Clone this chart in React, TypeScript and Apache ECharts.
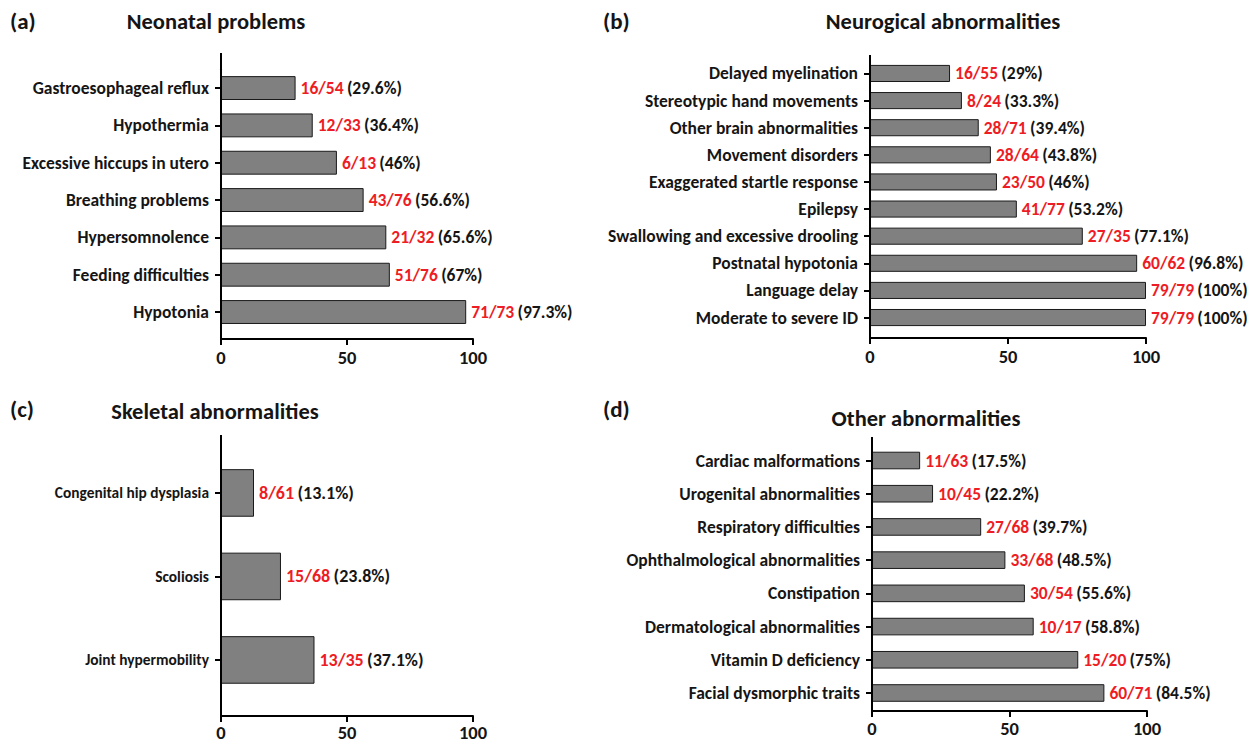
import React, { useEffect, useRef } from "react";
import * as echarts from "echarts";

// ---- Data ----
const aCats = ["Gastroesophageal reflux", "Hypothermia", "Excessive hiccups in utero", "Breathing problems", "Hypersomnolence", "Feeding difficulties", "Hypotonia"];
const aNum = [16, 12, 6, 43, 21, 51, 71];
const aDen = [54, 33, 13, 76, 32, 76, 73];
const aPct = [29.6, 36.4, 46, 56.6, 65.6, 67, 97.3];

const bCats = ["Delayed myelination", "Stereotypic hand movements", "Other brain abnormalities", "Movement disorders", "Exaggerated startle response", "Epilepsy", "Swallowing and excessive drooling", "Postnatal hypotonia", "Language delay", "Moderate to severe ID"];
const bNum = [16, 8, 28, 28, 23, 41, 27, 60, 79, 79];
const bDen = [55, 24, 71, 64, 50, 77, 35, 62, 79, 79];
const bPct = [29, 33.3, 39.4, 43.8, 46, 53.2, 77.1, 96.8, 100, 100];

const cCats = ["Congenital hip dysplasia", "Scoliosis", "Joint hypermobility"];
const cNum = [8, 15, 13];
const cDen = [61, 68, 35];
const cPct = [13.1, 23.8, 37.1];

const dCats = ["Cardiac malformations", "Urogenital abnormalities", "Respiratory difficulties", "Ophthalmological abnormalities", "Constipation", "Dermatological abnormalities", "Vitamin D deficiency", "Facial dysmorphic traits"];
const dNum = [11, 10, 27, 33, 30, 10, 15, 60];
const dDen = [63, 45, 68, 68, 54, 17, 20, 71];
const dPct = [17.5, 22.2, 39.7, 48.5, 55.6, 58.8, 75, 84.5];

const xTicks = [0, 50, 100];

const panelLetters = ["(a)", "(b)", "(c)", "(d)"];
const panelTitles = ["Neonatal problems", "Neurogical abnormalities", "Skeletal abnormalities", "Other abnormalities"];

const FONT = "Carlito, Lato, sans-serif";
const RED = "#ee1c24";
const INK = "#151515";

type Panel = {
  cats: string[]; num: number[]; den: number[]; pct: number[];
  left: number; width: number; top: number; height: number;
  axisTop: number; axisBottom: number; gap: string; catFont: number; valFont: number; tickMargin: number;
};

const panels: Panel[] = [
  { cats: aCats, num: aNum, den: aDen, pct: aPct, left: 221, width: 252, top: 69.4, height: 261.3, axisTop: 53, axisBottom: 339, gap: "36%", catFont: 17.5, valFont: 17.5, tickMargin: 9 },
  { cats: bCats, num: bNum, den: bDen, pct: bPct, left: 870, width: 276, top: 59.9, height: 271.2, axisTop: 55, axisBottom: 338, gap: "37%", catFont: 17.5, valFont: 17.5, tickMargin: 9 },
  { cats: cCats, num: cNum, den: cDen, pct: cPct, left: 221, width: 252, top: 451.2, height: 250.5, axisTop: 435, axisBottom: 716, gap: "43%", catFont: 15.4, valFont: 18, tickMargin: 7 },
  { cats: dCats, num: dNum, den: dDen, pct: dPct, left: 872, width: 275, top: 443.9, height: 265.7, axisTop: 437, axisBottom: 711, gap: "47%", catFont: 17.5, valFont: 17.5, tickMargin: 8 },
];

const titlePos = [
  { lx: 10, ly: 21, tx: 216, ty: 21 },
  { lx: 603, ly: 21, tx: 943, ty: 21 },
  { lx: 10, ly: 409, tx: 215, ty: 411 },
  { lx: 603, ly: 409, tx: 926, ty: 418 },
];

export default function App() {
  const ref = useRef<HTMLDivElement>(null);
  useEffect(() => {
    if (!ref.current) return;
    const chart = echarts.init(ref.current, null, { renderer: "svg" });
    const grid: any[] = [];
    const xAxis: any[] = [];
    const yAxis: any[] = [];
    const series: any[] = [];
    const graphic: any[] = [];
    panels.forEach((p, i) => {
      grid.push({ left: p.left, top: p.top, width: p.width, height: p.height, containLabel: false });
      xAxis.push({
        type: "value", gridIndex: i, min: 0, max: 100, interval: 50,
        offset: p.axisBottom - (p.top + p.height),
        axisLine: { show: true, lineStyle: { color: "#000", width: 2 } },
        axisTick: { show: true, length: 6, lineStyle: { color: "#000", width: 2 } },
        splitLine: { show: false },
        axisLabel: { color: INK, fontSize: 18.5, fontWeight: "bold", fontFamily: FONT, margin: p.tickMargin,
          formatter: (v: number) => (xTicks.includes(v) ? String(v) : "") },
      });
      yAxis.push({
        type: "category", gridIndex: i, data: p.cats, inverse: true,
        axisLine: { show: true, lineStyle: { color: "#000", width: 2 } },
        axisTick: { show: true, alignWithLabel: true, length: 6, lineStyle: { color: "#000", width: 2 } },
        axisLabel: { color: INK, fontSize: p.catFont, fontWeight: "bold", fontFamily: FONT, margin: 12 },
      });
      series.push({
        type: "bar", xAxisIndex: i, yAxisIndex: i, data: p.pct, barCategoryGap: p.gap,
        itemStyle: { color: "#808080", borderColor: "#1a1a1a", borderWidth: 1 },
        label: {
          show: true, position: "right", distance: 5,
          formatter: (prm: any) => `{r|${p.num[prm.dataIndex]}/${p.den[prm.dataIndex]}} {k|(${p.pct[prm.dataIndex]}%)}`,
          rich: {
            r: { color: RED, fontWeight: "bold", fontSize: p.valFont, fontFamily: FONT },
            k: { color: INK, fontWeight: "bold", fontSize: p.valFont, fontFamily: FONT },
          },
        },
      });
      graphic.push({
        type: "line", shape: { x1: p.left, y1: p.axisTop, x2: p.left, y2: p.axisBottom + 1 },
        style: { stroke: "#000", lineWidth: 2 }, z: 10,
      });
      const t = titlePos[i];
      graphic.push({ type: "text", x: t.lx, y: t.ly, style: { text: panelLetters[i], font: `bold 23px ${FONT}`, fill: INK, align: "left", verticalAlign: "middle" } });
      graphic.push({ type: "text", x: t.tx, y: t.ty, style: { text: panelTitles[i], font: `bold 22.5px ${FONT}`, fill: INK, align: "center", verticalAlign: "middle" } });
    });
    chart.setOption({ animation: false, backgroundColor: "#fff", grid, xAxis, yAxis, series, graphic });
    return () => chart.dispose();
  }, []);
  return <div ref={ref} style={{ position: "absolute", left: 0, top: 0, width: 1252, height: 744 }} />;
}
